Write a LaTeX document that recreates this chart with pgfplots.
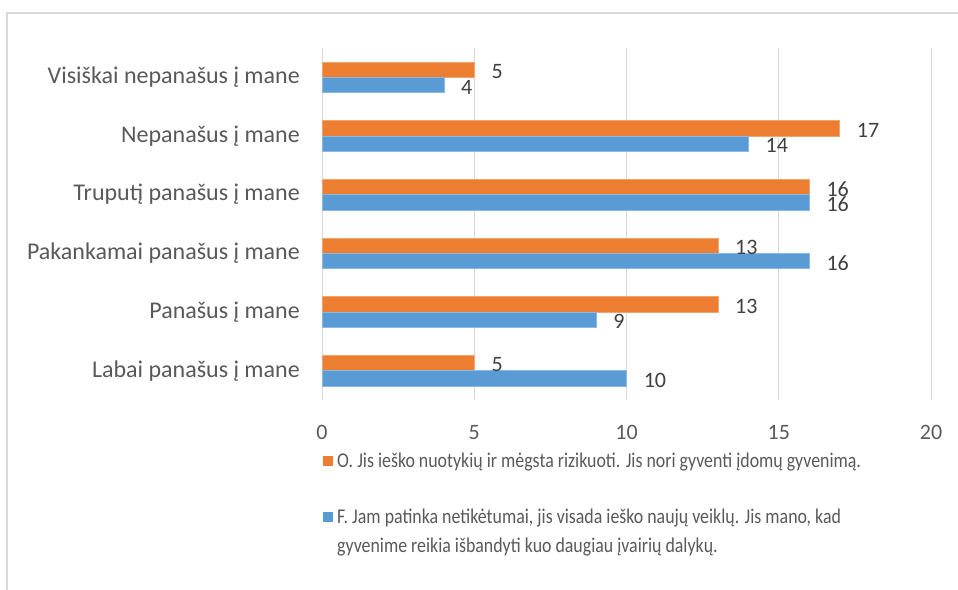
\documentclass[border=0pt]{standalone}
\usepackage{pgfplots}
\pgfplotsset{compat=1.18}
\usepackage{fontspec}
\setmainfont{Carlito}
\newfontfamily\legendfont{Carlito}[FakeStretch=0.85]
\definecolor{cOrange}{HTML}{ED7D31}
\definecolor{cBlue}{HTML}{5B9BD5}
\definecolor{cGrid}{HTML}{D9D9D9}
\definecolor{cText}{HTML}{595959}
\definecolor{cLabel}{HTML}{404040}
\begin{document}
\begin{tikzpicture}
\useasboundingbox (0,0) rectangle (958bp,590bp);
\draw[cGrid, line width=1.5bp] (7bp,0) -- (7bp,577bp) -- (958bp,577bp);
\begin{axis}[
  at={(322bp,190bp)}, anchor=south west,
  scale only axis, width=609bp, height=352bp,
  xmin=0, xmax=20, ymin=0.5, ymax=6.5,
  xbar, bar width=15.3bp,
  xtick={0,5,10,15,20},
  ytick={1,2,3,4,5,6},
  yticklabels={Labai panašus į mane, Panašus į mane, Pakankamai panašus į mane, Truputį panašus į mane, Nepanašus į mane, Visiškai nepanašus į mane},
  /pgf/number format/assume math mode=true,
  axis line style={draw=none},
  major tick length=0pt,
  xmajorgrids, grid style={cGrid, line width=1bp},
  xticklabel style={anchor=base, yshift=-39bp, font=\fontsize{22bp}{26bp}\selectfont, text=cText},
  yticklabel style={anchor=east, inner sep=0pt, xshift=-22bp, font=\fontsize{24bp}{28bp}\selectfont, text=cText},
  nodes near coords,
  every node near coord/.append style={anchor=west, inner sep=0pt, xshift=17bp, yshift=-2bp, font=\fontsize{22bp}{26bp}\selectfont, text=cLabel},
  legend style={at={(0,0)}, anchor=north west, xshift=-2bp, yshift=-49bp, draw=none, fill=none,
    font=\legendfont\fontsize{21bp}{29bp}\selectfont, text=cText, row sep=36bp, column sep=2bp,
    cells={anchor=west, align=left}},
  legend cell align=left,
]
\addplot[fill=cOrange, draw=cOrange!70!white, line width=0.6bp, bar shift=7.65bp,
  legend image code/.code={\fill[cOrange, draw=none] (0bp,-5bp) rectangle (10bp,5bp);}]
  coordinates {(5,1) (13,2) (13,3) (16,4) (17,5) (5,6)};
\addlegendentry{O. Jis ieško nuotykių ir mėgsta rizikuoti. Jis nori gyventi įdomų gyvenimą.}
\addplot[fill=cBlue, draw=cBlue!70!white, line width=0.6bp, bar shift=-7.65bp,
  legend image code/.code={\path[draw=none, fill=none] (0bp,-24.5bp) rectangle (0.1bp,24.5bp); \fill[cBlue, draw=none] (0bp,9.5bp) rectangle (10bp,19.5bp);}]
  coordinates {(10,1) (9,2) (16,3) (16,4) (14,5) (4,6)};
\addlegendentry{F. Jam patinka netikėtumai, jis visada ieško naujų veiklų. Jis mano, kad\\gyvenime reikia išbandyti kuo daugiau įvairių dalykų.}
\end{axis}
\end{tikzpicture}
\end{document}
